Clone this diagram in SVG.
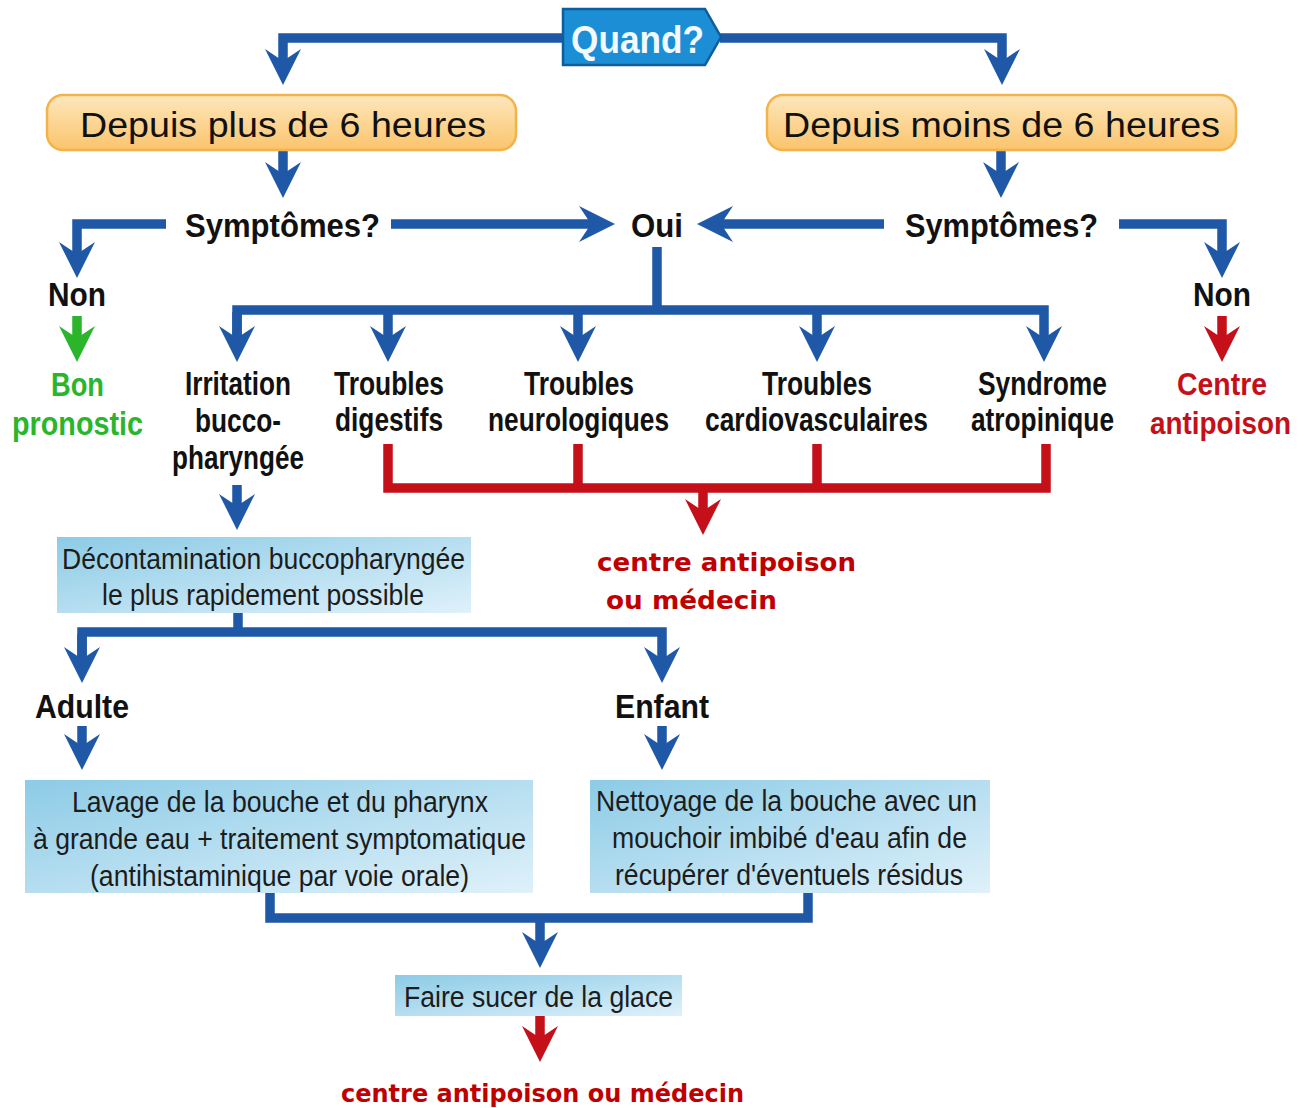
<svg xmlns="http://www.w3.org/2000/svg" width="1313" height="1108" viewBox="0 0 1313 1108">
<defs>
<linearGradient id="gOr" x1="0" y1="0" x2="0" y2="1"><stop offset="0" stop-color="#fde7bd"/><stop offset="1" stop-color="#fbc46c"/></linearGradient>
<linearGradient id="gBl" x1="0" y1="0" x2="1" y2="1"><stop offset="0" stop-color="#8ccbe6"/><stop offset="1" stop-color="#dff1fa"/></linearGradient>
<marker id="aB" markerUnits="userSpaceOnUse" viewBox="-10 -20 40 40" markerWidth="40" markerHeight="40" refX="0" refY="0" orient="auto" overflow="visible"><path d="M27,0 L-9,-18 L0,-4.5 L0,4.5 L-9,18 Z" fill="#1e58a6"/></marker>
<marker id="aG" markerUnits="userSpaceOnUse" viewBox="-10 -20 40 40" markerWidth="40" markerHeight="40" refX="0" refY="0" orient="auto" overflow="visible"><path d="M27,0 L-9,-18 L0,-4.5 L0,4.5 L-9,18 Z" fill="#2bb52b"/></marker>
<marker id="aR" markerUnits="userSpaceOnUse" viewBox="-10 -20 40 40" markerWidth="40" markerHeight="40" refX="0" refY="0" orient="auto" overflow="visible"><path d="M27,0 L-9,-18 L0,-4.5 L0,4.5 L-9,18 Z" fill="#c5101a"/></marker>
</defs>
<style>
.b{fill:none;stroke:#1e58a6;stroke-width:9.5}
.g{fill:none;stroke:#2bb52b;stroke-width:9.5}
.r{fill:none;stroke:#c5101a;stroke-width:9.5}
.lbl{font-family:"Liberation Sans",Arial,sans-serif;font-weight:bold;font-size:33px;fill:#111}
.box{font-family:"Liberation Sans",Arial,sans-serif;font-size:30px;fill:#1c1c1c}
.red{font-family:"DejaVu Sans",Verdana,sans-serif;font-weight:bold;font-size:24px;fill:#c00000}
.obox{fill:url(#gOr);stroke:#f4b24a;stroke-width:2.5}
.lb{fill:url(#gBl)}
</style>
<rect width="1313" height="1108" fill="#ffffff"/>

<g id="connectors">
<path class="b" d="M564,38 H283 V58" marker-end="url(#aB)"/>
<path class="b" d="M720,38 H1002 V58" marker-end="url(#aB)"/>
<path class="b" d="M283,150 V171" marker-end="url(#aB)"/>
<path class="b" d="M1001,150 V171" marker-end="url(#aB)"/>
<path class="b" d="M166,224 H77 V251" marker-end="url(#aB)"/>
<path class="b" d="M391,224 H588" marker-end="url(#aB)"/>
<path class="b" d="M884,224 H724" marker-end="url(#aB)"/>
<path class="b" d="M1119,224 H1222 V251" marker-end="url(#aB)"/>
<path class="g" d="M77,316 V335" marker-end="url(#aG)"/>
<path class="r" d="M1222,316 V335" marker-end="url(#aR)"/>
<path class="b" d="M657,247 V310"/>
<path class="b" d="M237,335 V310 H1044 V335" marker-end="url(#aB)"/>
<path class="b" d="M237,312 V335" marker-end="url(#aB)"/>
<path class="b" d="M388,312 V335" marker-end="url(#aB)"/>
<path class="b" d="M578,312 V335" marker-end="url(#aB)"/>
<path class="b" d="M817,312 V335" marker-end="url(#aB)"/>
<path class="r" d="M388,444 V488 H1046 V444"/>
<path class="r" d="M578,444 V488"/>
<path class="r" d="M817,444 V488"/>
<path class="r" d="M703,488 V508" marker-end="url(#aR)"/>
<path class="b" d="M237,485 V503" marker-end="url(#aB)"/>
<path class="b" d="M238,612 V632"/>
<path class="b" d="M82,656 V632 H662 V656" marker-end="url(#aB)"/>
<path class="b" d="M82,634 V656" marker-end="url(#aB)"/>
<path class="b" d="M82,726 V743" marker-end="url(#aB)"/>
<path class="b" d="M662,726 V743" marker-end="url(#aB)"/>
<path class="b" d="M270,893 V918 H808 V893"/>
<path class="b" d="M540,918 V941" marker-end="url(#aB)"/>
<path class="r" d="M540,1016 V1035" marker-end="url(#aR)"/>
</g>

<g id="quand">
<path d="M563,9 H705 L721,37 L705,65 H563 Z" fill="#1b8ed6" stroke="#0e5d9c" stroke-width="2.5"/>
<text x="571" y="53" font-family="Liberation Sans,Arial,sans-serif" font-weight="bold" font-size="38" fill="#f2f9ff" textLength="133" lengthAdjust="spacingAndGlyphs">Quand?</text>
</g>

<g id="plus6">
<rect class="obox" x="47" y="95" width="469" height="55" rx="16"/>
<text x="80" y="137" font-family="Liberation Sans,Arial,sans-serif" font-size="35" fill="#111" textLength="406" lengthAdjust="spacingAndGlyphs">Depuis plus de 6 heures</text>
</g>
<g id="moins6">
<rect class="obox" x="767" y="95" width="469" height="55" rx="16"/>
<text x="783" y="137" font-family="Liberation Sans,Arial,sans-serif" font-size="35" fill="#111" textLength="437" lengthAdjust="spacingAndGlyphs">Depuis moins de 6 heures</text>
</g>

<g id="symptomes-left"><text class="lbl" x="185" y="237" textLength="195" lengthAdjust="spacingAndGlyphs">Symptômes?</text></g>
<g id="symptomes-right"><text class="lbl" x="905" y="237" textLength="193" lengthAdjust="spacingAndGlyphs">Symptômes?</text></g>
<g id="oui"><text class="lbl" x="631" y="237" textLength="52" lengthAdjust="spacingAndGlyphs">Oui</text></g>
<g id="non-left"><text class="lbl" x="48" y="306" textLength="58" lengthAdjust="spacingAndGlyphs">Non</text></g>
<g id="non-right"><text class="lbl" x="1193" y="306" textLength="58" lengthAdjust="spacingAndGlyphs">Non</text></g>

<g id="bon-pronostic">
<text class="lbl" x="51" y="396" style="fill:#2bb52b" textLength="53" lengthAdjust="spacingAndGlyphs">Bon</text>
<text class="lbl" x="12" y="435" style="fill:#2bb52b" textLength="131" lengthAdjust="spacingAndGlyphs">pronostic</text>
</g>
<g id="centre-antipoison-right">
<text class="lbl" x="1177" y="395" style="fill:#c5101a;font-size:31px" textLength="90" lengthAdjust="spacingAndGlyphs">Centre</text>
<text class="lbl" x="1150" y="434" style="fill:#c5101a;font-size:31px" textLength="141" lengthAdjust="spacingAndGlyphs">antipoison</text>
</g>

<g id="irritation">
<text class="lbl" x="185" y="395" textLength="106" lengthAdjust="spacingAndGlyphs">Irritation</text>
<text class="lbl" x="195" y="432" textLength="86" lengthAdjust="spacingAndGlyphs">bucco-</text>
<text class="lbl" x="172" y="469" textLength="132" lengthAdjust="spacingAndGlyphs">pharyngée</text>
</g>
<g id="digestifs">
<text class="lbl" x="334" y="395" textLength="110" lengthAdjust="spacingAndGlyphs">Troubles</text>
<text class="lbl" x="335" y="431" textLength="108" lengthAdjust="spacingAndGlyphs">digestifs</text>
</g>
<g id="neurologiques">
<text class="lbl" x="524" y="395" textLength="110" lengthAdjust="spacingAndGlyphs">Troubles</text>
<text class="lbl" x="488" y="431" textLength="181" lengthAdjust="spacingAndGlyphs">neurologiques</text>
</g>
<g id="cardiovasculaires">
<text class="lbl" x="762" y="395" textLength="110" lengthAdjust="spacingAndGlyphs">Troubles</text>
<text class="lbl" x="705" y="431" textLength="223" lengthAdjust="spacingAndGlyphs">cardiovasculaires</text>
</g>
<g id="atropinique">
<text class="lbl" x="978" y="395" textLength="129" lengthAdjust="spacingAndGlyphs">Syndrome</text>
<text class="lbl" x="971" y="431" textLength="143" lengthAdjust="spacingAndGlyphs">atropinique</text>
</g>

<g id="centre-medecin-1">
<text class="red" x="597" y="571" textLength="259" lengthAdjust="spacingAndGlyphs">centre antipoison</text>
<text class="red" x="606" y="609" textLength="171" lengthAdjust="spacingAndGlyphs">ou médecin</text>
</g>

<g id="decontamination">
<rect class="lb" x="57" y="537" width="414" height="76"/>
<text class="box" x="62" y="569" textLength="403" lengthAdjust="spacingAndGlyphs">Décontamination buccopharyngée</text>
<text class="box" x="102" y="605" textLength="322" lengthAdjust="spacingAndGlyphs">le plus rapidement possible</text>
</g>

<g id="adulte"><text class="lbl" x="35" y="718" textLength="94" lengthAdjust="spacingAndGlyphs">Adulte</text></g>
<g id="enfant"><text class="lbl" x="615" y="718" textLength="94" lengthAdjust="spacingAndGlyphs">Enfant</text></g>

<g id="lavage">
<rect class="lb" x="25" y="780" width="508" height="113"/>
<text class="box" x="72" y="812" textLength="416" lengthAdjust="spacingAndGlyphs">Lavage de la bouche et du pharynx</text>
<text class="box" x="33" y="849" textLength="493" lengthAdjust="spacingAndGlyphs">à grande eau + traitement symptomatique</text>
<text class="box" x="90" y="886" textLength="379" lengthAdjust="spacingAndGlyphs">(antihistaminique par voie orale)</text>
</g>
<g id="nettoyage">
<rect class="lb" x="590" y="780" width="400" height="113"/>
<text class="box" x="596" y="811" textLength="381" lengthAdjust="spacingAndGlyphs">Nettoyage de la bouche avec un</text>
<text class="box" x="612" y="848" textLength="355" lengthAdjust="spacingAndGlyphs">mouchoir imbibé d'eau afin de</text>
<text class="box" x="615" y="885" textLength="348" lengthAdjust="spacingAndGlyphs">récupérer d'éventuels résidus</text>
</g>
<g id="glace">
<rect class="lb" x="395" y="975" width="287" height="41"/>
<text class="box" x="404" y="1007" textLength="269" lengthAdjust="spacingAndGlyphs">Faire sucer de la glace</text>
</g>
<g id="centre-medecin-2">
<text class="red" x="341" y="1102" textLength="403" lengthAdjust="spacingAndGlyphs">centre antipoison ou médecin</text>
</g>
</svg>
